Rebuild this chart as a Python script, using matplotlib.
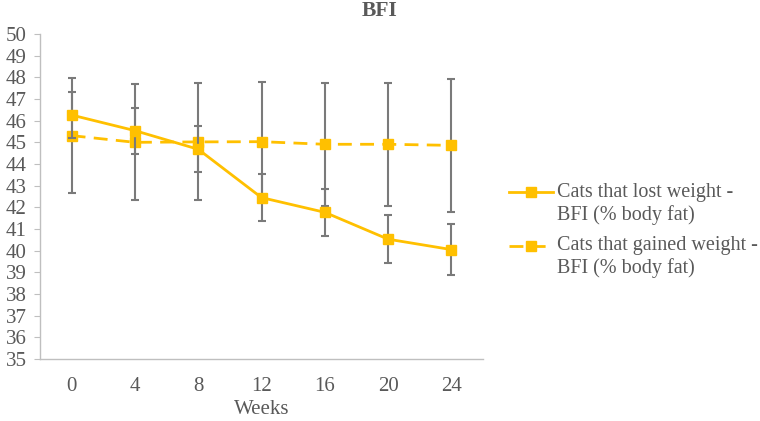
import matplotlib.pyplot as plt
from matplotlib.lines import Line2D

# --- data ---
weeks = [0, 4, 8, 12, 16, 20, 24]
lost_bfi = [46.26, 45.54, 44.68, 42.45, 41.77, 40.53, 40.05]
lost_err = [1.08, 1.06, 1.06, 1.07, 1.09, 1.10, 1.17]
gained_bfi = [45.31, 45.00, 45.02, 45.03, 44.91, 44.91, 44.86]
gained_err = [2.67, 2.68, 2.70, 2.75, 2.83, 2.83, 3.06]
lost_label = "Cats that lost weight -\nBFI (% body fat)"
gained_label = "Cats that gained weight -\nBFI (% body fat)"

gold = '#FFC000'
grey_txt = '#595959'
err_col = '#7a7a7a'

plt.rcParams['font.family'] = ['Liberation Serif', 'DejaVu Serif']

fig = plt.figure(figsize=(7.6, 4.21), dpi=100)
ax = fig.add_axes([40 / 760, 1 - 359 / 421, 443 / 760, 325 / 421])

ax.errorbar(weeks, gained_bfi, yerr=gained_err, color=gold, ls=(0, (5, 3)), lw=2,
            marker='s', ms=7, ecolor=err_col, elinewidth=1.5, capsize=3, capthick=1.5,
            zorder=3)
ax.errorbar(weeks, lost_bfi, yerr=lost_err, color=gold, ls='-', lw=2,
            marker='s', ms=7, ecolor=err_col, elinewidth=1.5, capsize=3, capthick=1.5,
            zorder=4)

ax.set_xlim(-2, 26)
ax.set_ylim(35, 50)
ax.set_xticks(weeks)
ax.set_yticks(range(35, 51))
ax.tick_params(axis='x', length=0, labelsize=15, labelcolor=grey_txt, pad=13)
ax.tick_params(axis='y', length=4.5, color='#bfbfbf', labelsize=15, labelcolor=grey_txt, pad=5)
for s in ['top', 'right']:
    ax.spines[s].set_visible(False)
for s in ['left', 'bottom']:
    ax.spines[s].set_color('#bfbfbf')
    ax.spines[s].set_linewidth(1)

ax.set_xlabel("Weeks", fontsize=15, color=grey_txt, labelpad=3)
fig.text(0.5, 1 - 11 / 421, "BFI", ha='center', va='center', fontsize=15.5,
         fontweight='bold', color=grey_txt)

# --- legend drawn by hand so the key sits on the first text line ---
for y, style in [(192, '-'), (246, (0, (5, 3)))]:
    fig.add_artist(Line2D([509 / 760, 553 / 760], [1 - y / 421] * 2, color=gold, lw=2,
                          ls=style, transform=fig.transFigure))
    fig.add_artist(Line2D([531 / 760], [1 - y / 421], color=gold, marker='s', ms=7, lw=0,
                          transform=fig.transFigure))
fig.text(557 / 760, 1 - 204 / 421, lost_label, ha='left', va='center', fontsize=14.5,
         color=grey_txt, linespacing=1.2)
fig.text(557 / 760, 1 - 257 / 421, gained_label, ha='left', va='center', fontsize=14.5,
         color=grey_txt, linespacing=1.2)

fig.savefig('out.png', dpi=100)
